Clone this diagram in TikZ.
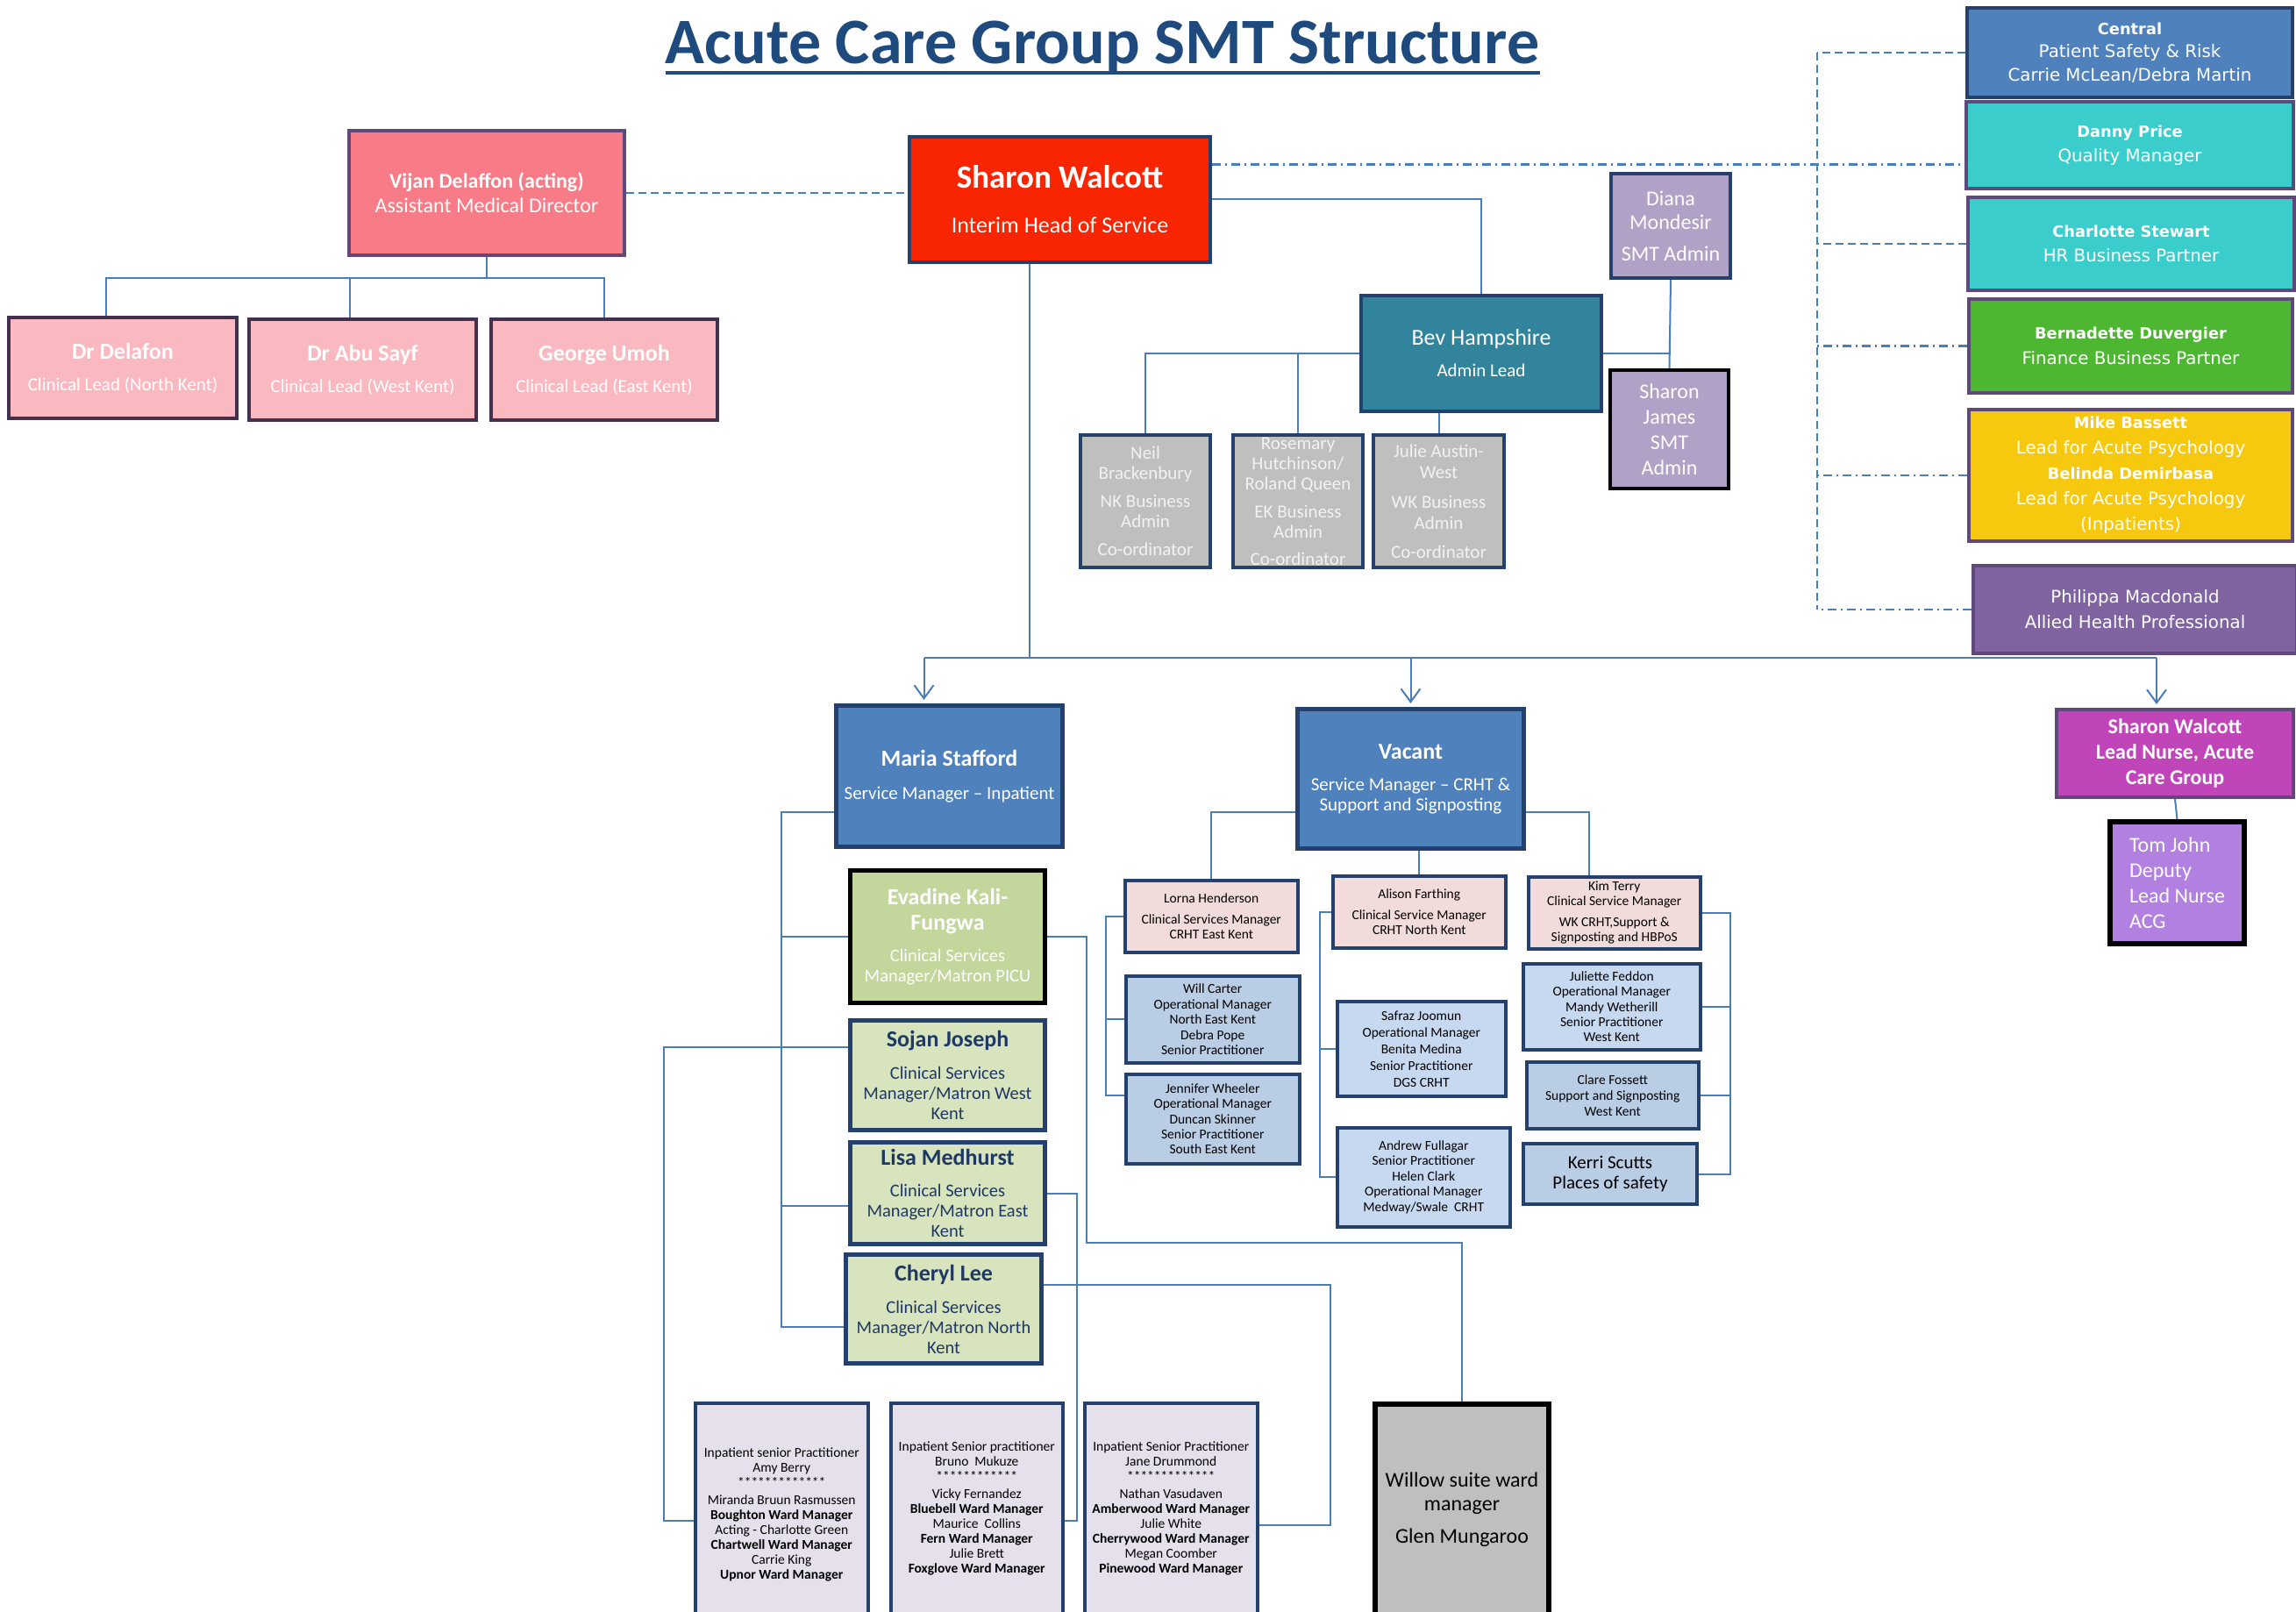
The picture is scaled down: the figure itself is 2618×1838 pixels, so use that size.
\documentclass[tikz,border=0pt]{standalone}
\usepackage{fontspec}
\setmainfont{Carlito}
\newfontfamily\verd{DejaVu Sans}
\usetikzlibrary{arrows.meta}

\newcommand\fsz[2]{\fontsize{#1}{#2}\selectfont}
\newcommand\boldname[1]{{\fsz{17.8}{26}\bfseries #1}}

\definecolor{titleblue}{HTML}{1F4A7D}
\definecolor{bdblue}{HTML}{24406C}
\definecolor{bdpurp}{HTML}{5F497A}
\definecolor{bdplum}{HTML}{41314F}
\definecolor{lnblue}{HTML}{4A7EBB}
\definecolor{vijanpink}{HTML}{F77C87}
\definecolor{leadpink}{HTML}{FAB9C0}
\definecolor{headred}{HTML}{F92400}
\definecolor{centralblue}{HTML}{4F81BD}
\definecolor{turq}{HTML}{3ACDCB}
\definecolor{fingreen}{HTML}{4DB731}
\definecolor{psyyellow}{HTML}{F6C90E}
\definecolor{ahpurple}{HTML}{8064A2}
\definecolor{admlav}{HTML}{B2A1C7}
\definecolor{bevteal}{HTML}{31849B}
\definecolor{admgray}{HTML}{BFBFBF}
\definecolor{csmpink}{HTML}{F2DCDB}
\definecolor{opblue}{HTML}{B9CDE5}
\definecolor{opbluelt}{HTML}{C6D9F1}
\definecolor{picugreen}{HTML}{C3D69B}
\definecolor{matgreen}{HTML}{D7E4BD}
\definecolor{mattext}{HTML}{1F3864}
\definecolor{wardlav}{HTML}{E5E0EC}
\definecolor{nursemag}{HTML}{C045B9}
\definecolor{deplilac}{HTML}{B180E0}

\tikzset{
  box/.style={draw=bdblue, line width=4pt, inner sep=0pt, align=center, anchor=north west, text=white},
  dims/.style 2 args={minimum width=#1pt, minimum height=#2pt},
  purpbox/.style={draw=bdpurp},
  blackbox/.style={draw=black},
  lnk/.style={draw=lnblue, line width=2pt},
  dsh/.style={line width=2.5pt, dash pattern=on 9pt off 5pt},
  dshdot/.style={line width=2.5pt, dash pattern=on 10pt off 5pt on 2pt off 5pt},
  downarr/.style={-{Straight Barb[length=15pt,width=22pt]}},
}

\begin{document}
\begin{tikzpicture}[x=1pt,y=-1pt]
\fill[white] (0,0) rectangle (2618,1838);
\useasboundingbox (0,0) rectangle (2618,1838);

% title
\node[font=\bfseries\fsz{74}{80}, text=titleblue, inner sep=0pt, anchor=base] (title) at (1257,73) {Acute Care Group SMT Structure};
\draw[titleblue, line width=4.5pt] ([yshift=-10pt]title.base west) -- ([yshift=-10pt]title.base east); % underline

% medical side
\node[box, purpbox, fill=vijanpink, dims={314}{142}, font=\fsz{24}{28}] (vijan) at (396,147)
  {\textbf{Vijan Delaffon (acting)}\\Assistant Medical Director};
\node[box, draw=bdplum, fill=leadpink, dims={260}{115}, font=\fsz{21}{25}] (delafon) at (8,360)
  {{\fsz{26}{30}\bfseries Dr Delafon}\\[11pt]Clinical Lead (North Kent)};
\node[box, draw=bdplum, fill=leadpink, dims={259}{115}, font=\fsz{21}{25}] (abu) at (282,362)
  {{\fsz{26}{30}\bfseries Dr Abu Sayf}\\[11pt]Clinical Lead (West Kent)};
\node[box, draw=bdplum, fill=leadpink, dims={258}{115}, font=\fsz{21}{25}] (george) at (558,362)
  {{\fsz{26}{30}\bfseries George Umoh}\\[11pt]Clinical Lead (East Kent)};

% head of service
\node[box, fill=headred, dims={343}{143}, font=\fsz{26}{30}] (sharonw) at (1035,154)
  {{\fsz{37}{40}\bfseries Sharon Walcott}\\[21pt]Interim Head of Service};

% corporate partners
\node[box, fill=centralblue, dims={371}{102}, font=\verd\fsz{19.8}{26.5}] (central) at (2241,7)
  {\boldname{Central}\\Patient Safety \& Risk\\Carrie McLean/Debra Martin};
\node[box, purpbox, fill=turq, dims={373}{99}, font=\verd\fsz{19.8}{28}] (danny) at (2240,114)
  {\boldname{Danny Price}\\Quality Manager};
\node[box, purpbox, fill=turq, dims={372}{106}, font=\verd\fsz{19.8}{28}] (charlotte) at (2242,223)
  {\boldname{Charlotte Stewart}\\HR Business Partner};
\node[box, purpbox, fill=fingreen, dims={369}{107}, font=\verd\fsz{19.8}{29}] (bernadette) at (2243,339)
  {\boldname{Bernadette Duvergier}\\Finance Business Partner};
\node[box, purpbox, fill=psyyellow, dims={369}{150}, font=\verd\fsz{19.8}{29}] (mike) at (2243,465)
  {\boldname{Mike Bassett}\\Lead for Acute Psychology\\\boldname{Belinda Demirbasa}\\Lead for Acute Psychology\\(Inpatients)};
\node[box, purpbox, fill=ahpurple, dims={369}{100}, font=\verd\fsz{19.8}{29}] (philippa) at (2248,643)
  {Philippa Macdonald\\Allied Health Professional};

% admin
\node[box, fill=admlav, dims={136}{119}, font=\fsz{24}{27}] (diana) at (1835,196)
  {Diana\\Mondesir\\[9pt]SMT Admin};
\node[box, blackbox, fill=admlav, dims={135}{135}, font=\fsz{24}{29}] (sharonj) at (1834,420)
  {Sharon\\James\\SMT\\Admin};
\node[box, fill=bevteal, dims={274}{132}, font=\fsz{21}{25}] (bev) at (1550,335)
  {{\fsz{26}{30}Bev Hampshire}\\[11pt]Admin Lead};
\node[box, fill=admgray, text=white!95!black, dims={148}{151}, font=\fsz{21}{23}] (neil) at (1230,494)
  {Neil\\Brackenbury\\[9pt]NK Business\\Admin\\[9pt]Co-ordinator};
\node[box, fill=admgray, text=white!95!black, dims={148}{151}, font=\fsz{21}{23}] (rosemary) at (1404,494)
  {Rosemary\\Hutchinson/\\Roland Queen\\[9pt]EK Business\\Admin\\[8pt]Co-ordinator};
\node[box, fill=admgray, text=white!95!black, dims={149}{151}, font=\fsz{21}{24}] (julie) at (1564,494)
  {Julie Austin-\\West\\[10pt]WK Business\\Admin\\[9pt]Co-ordinator};

% service managers
\node[box, fill=centralblue, line width=5pt, dims={258}{161}, font=\fsz{21}{25}] (maria) at (951,802)
  {{\fsz{26}{30}\bfseries Maria Stafford}\\[13pt]Service Manager – Inpatient};
\node[box, fill=centralblue, line width=5pt, dims={258}{159}, font=\fsz{21}{23}] (vacant) at (1477,806)
  {{\fsz{26}{30}\bfseries Vacant}\\[13pt]Service Manager – CRHT \&\\Support and Signposting};
\node[box, purpbox, fill=nursemag, dims={270}{100}, font=\bfseries\fsz{24}{29}] (leadnurse) at (2343,807)
  {Sharon Walcott\\Lead Nurse, Acute\\Care Group};
\node[box, blackbox, line width=6pt, fill=deplilac, dims={153}{139}, align=left, font=\fsz{24}{29}] (tom) at (2403,934)
  {Tom John\\Deputy\\Lead Nurse\\ACG};

% CRHT teams
\node[box, fill=csmpink, text=black, line width=3.5pt, dims={197}{82}, font=\fsz{15.5}{17}] (lorna) at (1281,1002)
  {Lorna Henderson\\[7pt]Clinical Services Manager\\CRHT East Kent};
\node[box, fill=csmpink, text=black, line width=3.5pt, dims={197}{82}, font=\fsz{15.5}{17}] (alison) at (1518,997)
  {Alison Farthing\\[7pt]Clinical Service Manager\\CRHT North Kent};
\node[box, fill=csmpink, text=black, line width=3.5pt, dims={196}{82}, font=\fsz{15.5}{17}] (kim) at (1741,998)
  {Kim Terry\\Clinical Service Manager\\[7pt]WK CRHT,Support \&\\Signposting and HBPoS};
\node[box, fill=opblue, text=black, line width=3.5pt, dims={198}{99}, font=\fsz{15.5}{17.5}] (will) at (1282,1111)
  {Will Carter\\Operational Manager\\North East Kent\\Debra Pope\\Senior Practitioner};
\node[box, fill=opblue, text=black, line width=3.5pt, dims={198}{102}, font=\fsz{15.5}{17.3}] (jennifer) at (1282,1223)
  {Jennifer Wheeler\\Operational Manager\\Duncan Skinner\\Senior Practitioner\\South East Kent};
\node[box, fill=opbluelt, text=black, line width=3.5pt, dims={192}{108}, font=\fsz{15.5}{19}] (safraz) at (1523,1140)
  {Safraz Joomun\\Operational Manager\\Benita Medina\\Senior Practitioner\\DGS CRHT};
\node[box, fill=opbluelt, text=black, line width=3.5pt, dims={197}{113}, font=\fsz{15.5}{17.5}] (andrew) at (1523,1284)
  {Andrew Fullagar\\Senior Practitioner\\Helen Clark\\Operational Manager\\Medway/Swale\ \ CRHT};
\node[box, fill=opbluelt, text=black, line width=3.5pt, dims={202}{98}, font=\fsz{15.5}{17.3}] (juliette) at (1735,1097)
  {Juliette Feddon\\Operational Manager\\Mandy Wetherill\\Senior Practitioner\\West Kent};
\node[box, fill=opblue, text=black, line width=3.5pt, dims={196}{76}, font=\fsz{15.5}{18}] (clare) at (1739,1209)
  {Clare Fossett\\Support and Signposting\\West Kent};
\node[box, fill=opblue, text=black, line width=4pt, dims={198}{69}, font=\fsz{21}{23}] (kerri) at (1735,1302)
  {Kerri Scutts\\Places of safety};

% matrons
\node[box, blackbox, line width=5pt, fill=picugreen, dims={222}{151}, font=\fsz{20.5}{23}] (evadine) at (967,990)
  {{\fsz{26}{29}\bfseries Evadine Kali-}\\[6pt]{\fsz{26}{29}\bfseries Fungwa}\\[13pt]Clinical Services\\Manager/Matron PICU};
\node[box, line width=5pt, fill=matgreen, text=mattext, dims={222}{125}, font=\fsz{20.5}{23}] (sojan) at (967,1161)
  {{\fsz{26}{29}\bfseries Sojan Joseph}\\[14pt]Clinical Services\\Manager/Matron West\\Kent};
\node[box, line width=5pt, fill=matgreen, text=mattext, dims={222}{116}, font=\fsz{20.5}{23}] (lisa) at (967,1300)
  {{\fsz{26}{29}\bfseries Lisa Medhurst}\\[13pt]Clinical Services\\Manager/Matron East\\Kent};
\node[box, line width=5pt, fill=matgreen, text=mattext, dims={223}{124}, font=\fsz{20.5}{23}] (cheryl) at (962,1428)
  {{\fsz{26}{29}\bfseries Cheryl Lee}\\[14pt]Clinical Services\\Manager/Matron North\\Kent};

% wards
\node[box, fill=wardlav, text=black, line width=3.5pt, dims={197}{254}, font=\fsz{15.5}{17}] (wardA) at (791,1598)
  {Inpatient senior Practitioner\\Amy Berry\\*************\\[3pt]Miranda Bruun Rasmussen\\\textbf{Boughton Ward Manager}\\Acting - Charlotte Green\\\textbf{Chartwell Ward Manager}\\Carrie King\\\textbf{Upnor Ward Manager}};
\node[box, fill=wardlav, text=black, line width=3.5pt, dims={196}{240}, font=\fsz{15.5}{17}] (wardB) at (1014,1598)
  {Inpatient Senior practitioner\\Bruno\ \ Mukuze\\************\\[3pt]Vicky Fernandez\\\textbf{Bluebell Ward Manager}\\Maurice\ \ Collins\\\textbf{Fern Ward Manager}\\Julie Brett\\\textbf{Foxglove Ward Manager}};
\node[box, fill=wardlav, text=black, line width=3.5pt, dims={197}{240}, font=\fsz{15.5}{17}] (wardC) at (1235,1598)
  {Inpatient Senior Practitioner\\Jane Drummond\\*************\\[3pt]Nathan Vasudaven\\\textbf{Amberwood Ward Manager}\\Julie White\\\textbf{Cherrywood Ward Manager}\\Megan Coomber\\\textbf{Pinewood Ward Manager}};
\node[box, blackbox, line width=6pt, fill=admgray, text=black, dims={198}{240}, font=\fsz{24}{27}] (willow) at (1565,1598)
  {Willow suite ward\\manager\\[10pt]Glen Mungaroo};

% clinical leads
\draw[lnk] (vijan.south) -- ++(0,24) coordinate (vbus);
\draw[lnk] ([xshift=-19pt]delafon.north) |- (vbus);
\draw[lnk] ([xshift=-15pt]abu.north) |- (vbus);
\draw[lnk] (george.north) |- (vbus);
\draw[lnk, dsh] (vijan.east) -- (vijan.east -| sharonw.west); % medical link

% partners
\coordinate (swdd) at ([yshift=40pt]sharonw.east);
\coordinate (rail) at (2072,0);
\draw[lnk, dshdot] (swdd) -- (swdd -| danny.west);
\draw[lnk, dsh] (central.west -| rail) -- (philippa.west -| rail);
\draw[lnk, dsh] (central.west) -- (central.west -| rail);
\draw[lnk, dsh] (charlotte.west) -- (charlotte.west -| rail);
\foreach \p in {bernadette, mike, philippa}
  \draw[lnk, dshdot] (\p.west) -- (\p.west -| rail);

% admin
\draw[lnk] (sharonw.east) -| (bev.north);
\draw[lnk] (bev.west) -| (neil.north);
\draw[lnk] (rosemary.north) -- (rosemary.north |- bev.west);
\draw[lnk] (julie.north |- bev.south) -- (julie.north);
\draw[lnk] (bev.east) -- (bev.east -| diana.south);
\draw[lnk] (diana.south) -- (sharonj.north);

% service managers
\draw[lnk] ([xshift=-35pt]sharonw.south) -- ++(0,449) coordinate (hub);
\coordinate (ma) at ([xshift=-29pt]maria.north);
\coordinate (ln) at ([xshift=-21pt]leadnurse.north);
\draw[lnk] (hub -| ma) -- (hub -| ln);
\foreach \t in {ma, vacant.north, ln}
  \draw[lnk, downarr] (hub -| \t) -- ([yshift=4pt]\t);
\draw[lnk] (leadnurse.south) -- (tom.north);

% CRHT
\draw[lnk] ([yshift=-38pt]vacant.west) -| (lorna.north);
\draw[lnk] (alison.north |- vacant.south) -- (alison.north);
\draw[lnk] ([yshift=-38pt]vacant.east) -| ([xshift=-29pt]kim.north);
\draw[lnk] (lorna.west) -- ++(-20,0) |- ([yshift=27pt]jennifer.west);
\draw[lnk] (will.west) -- ++(-21,0);
\draw[lnk] (alison.west) -- ++(-13,0) |- (andrew.west);
\draw[lnk] (safraz.west) -- ++(-18,0);
\draw[lnk] (kim.east) -- ++(32,0) |- (kerri.east);
\draw[lnk] (juliette.east) -- ++(32,0);
\draw[lnk] (clare.east) -- ++(34,0);

% inpatient
\draw[lnk] ([yshift=-41pt]maria.west) -- ++(-60,0) coordinate (mtrunk) |- ([yshift=-20pt]cheryl.west);
\draw[lnk] (evadine.west) -- (evadine.west -| mtrunk);
\draw[lnk] ([yshift=-14pt]lisa.west) -- ++(-76,0);
\draw[lnk] ([yshift=32pt]sojan.west) -- ++(-210,0) |- ([yshift=-7pt]wardA.west);
\draw[lnk] (evadine.east) -- ++(45,0) -- ++(0,349) -| (willow.north);
\draw[lnk] (lisa.east) -- ++(34,0) |- ([yshift=-14pt]wardB.east);
\draw[lnk] ([yshift=28pt]cheryl.east) -- ++(327,0) |- ([yshift=-19pt]wardC.east);
\end{tikzpicture}
\end{document}
